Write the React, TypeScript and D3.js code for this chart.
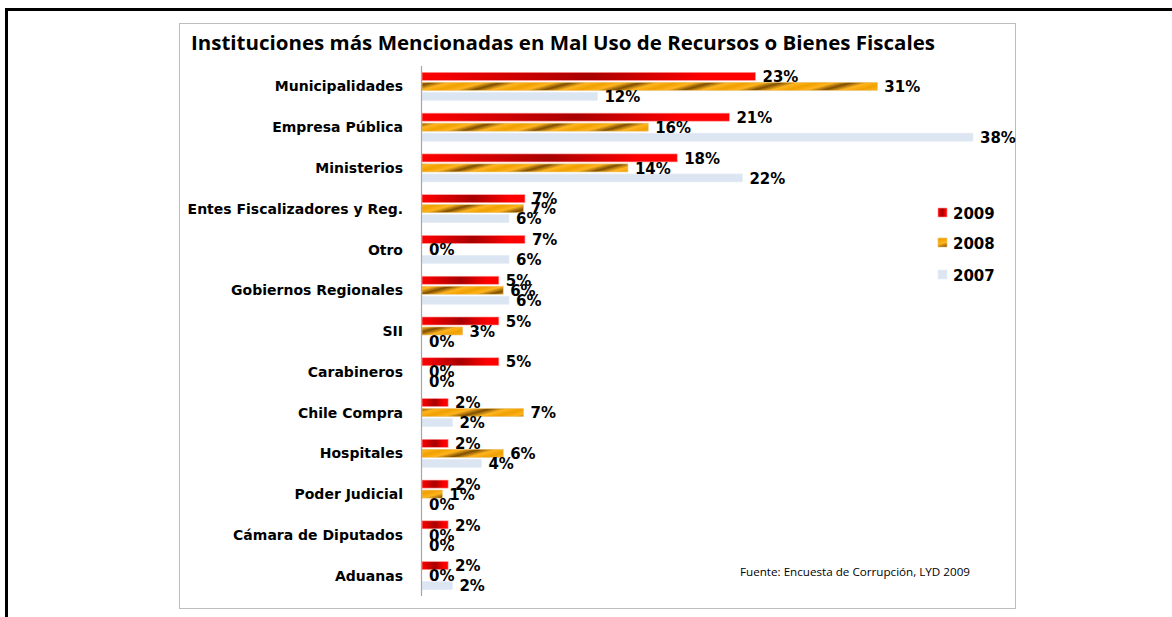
import React from "react";
import * as d3 from "d3";

const categories = [
  "Municipalidades",
  "Empresa Pública",
  "Ministerios",
  "Entes Fiscalizadores y Reg.",
  "Otro",
  "Gobiernos Regionales",
  "SII",
  "Carabineros",
  "Chile Compra",
  "Hospitales",
  "Poder Judicial",
  "Cámara de Diputados",
  "Aduanas",
];
const series = ["2009", "2008", "2007"];
const values2009 = [23.0, 21.2, 17.6, 7.1, 7.1, 5.3, 5.3, 5.3, 1.8, 1.8, 1.8, 1.8, 1.8];
const values2008 = [31.4, 15.6, 14.2, 7.0, 0, 5.6, 2.8, 0, 7.0, 5.6, 1.4, 0, 0];
const values2007 = [12.1, 38.0, 22.1, 6.0, 6.0, 6.0, 0, 0, 2.1, 4.1, 0, 0, 2.1];
const title = "Instituciones más Mencionadas en Mal Uso de Recursos o Bienes Fiscales";
const source = "Fuente: Encuesta de Corrupción, LYD 2009";

const W = 1172;
const H = 617;

export default function App() {
  const x = d3.scaleLinear().domain([0, 38]).range([422, 973]);
  const y = d3.scaleBand<string>().domain(categories).range([66, 596]);
  const inner = d3.scaleBand<string>().domain(series).range([-15, 15]).paddingInner(0.2).paddingOuter(0.1);
  const data = [values2009, values2008, values2007];
  const fills = ["url(#g2009)", "url(#g2008)", "#DCE6F2"];
  const strokes = ["#FF9A9A", "#E8C070", "#E4ECF6"];
  const labelFont = "'DejaVu Sans', Verdana, sans-serif";

  return (
    <svg width={W} height={H} style={{ position: "absolute", left: 0, top: 0 }}>
      <defs>
        <linearGradient id="g2009" x1="0" y1="0" x2="1" y2="0">
          <stop offset="0" stopColor="#FF0000" />
          <stop offset="0.5" stopColor="#A80000" />
          <stop offset="0.85" stopColor="#FF0000" />
          <stop offset="1" stopColor="#FF0000" />
        </linearGradient>
        <linearGradient
          id="g2008"
          gradientUnits="userSpaceOnUse"
          x1="0"
          y1="0"
          x2="4.8"
          y2="17.7"
          spreadMethod="repeat"
        >
          <stop offset="0" stopColor="#F0A000" />
          <stop offset="0.25" stopColor="#FFB41E" />
          <stop offset="0.5" stopColor="#7E4E00" />
          <stop offset="0.75" stopColor="#FFB41E" />
          <stop offset="1" stopColor="#F0A000" />
        </linearGradient>
      </defs>
      <rect x={0} y={0} width={W} height={H} fill="#fff" />
      {/* outer black frame */}
      <rect x={5} y={8} width={W} height={3} fill="#000" />
      <rect x={5} y={8} width={3} height={H} fill="#000" />
      {/* chart frame */}
      <rect x={179.5} y={23.5} width={836} height={585} fill="#fff" stroke="#BDBDBD" strokeWidth={1} />
      <text
        x={191}
        y={50}
        fontFamily="'Open Sans', sans-serif"
        fontWeight="bold"
        fontSize={20}
        textLength={744}
        lengthAdjust="spacingAndGlyphs"
        fill="#000"
      >
        {title}
      </text>
      {/* category labels */}
      {categories.map((c) => (
        <text
          key={c}
          x={403}
          y={(y(c) ?? 0) + y.bandwidth() / 2}
          dy="0.36em"
          textAnchor="end"
          fontFamily={labelFont}
          fontWeight="bold"
          fontSize={14}
          fill="#000"
        >
          {c}
        </text>
      ))}
      {/* bars */}
      {series.map((s, si) =>
        categories.map((c, ci) => {
          const v = data[si][ci];
          const cy = (y(c) ?? 0) + y.bandwidth() / 2;
          const by = cy + (inner(s) ?? 0);
          const bw = x(v) - x(0);
          return (
            <g key={s + c}>
              {v > 0 && (
                <rect
                  x={x(0)}
                  y={by}
                  width={bw}
                  height={inner.bandwidth()}
                  fill={fills[si]}
                  stroke={strokes[si]}
                  strokeWidth={0.6}
                />
              )}
            </g>
          );
        })
      )}
      {/* axis line */}
      <line x1={421.5} x2={421.5} y1={66} y2={596} stroke="#A6A6A6" strokeWidth={1.2} />
      {/* value labels */}
      {series.map((s, si) =>
        categories.map((c, ci) => {
          const v = data[si][ci];
          const cy = (y(c) ?? 0) + y.bandwidth() / 2;
          const by = cy + (inner(s) ?? 0) + inner.bandwidth() / 2;
          return (
            <text
              key={"l" + s + c}
              x={x(v) + 7}
              y={by}
              dy="0.38em"
              fontFamily={labelFont}
              fontWeight="bold"
              fontSize={15}
              fill="#000"
            >
              {d3.format(".0f")(v) + "%"}
            </text>
          );
        })
      )}
      {/* legend */}
      {series.map((s, si) => {
        const ly = [213, 243, 275][si];
        return (
          <g key={"lg" + s}>
            <rect x={938} y={ly - 5} width={9} height={9} fill={fills[si]} stroke={strokes[si]} strokeWidth={0.6} />
            <text
              x={953}
              y={ly}
              dy="0.38em"
              fontFamily={labelFont}
              fontWeight="bold"
              fontSize={15}
              fill="#000"
            >
              {s}
            </text>
          </g>
        );
      })}
      <text
        x={740}
        y={576}
        fontFamily="'Open Sans', sans-serif"
        fontSize={11}
        textLength={230}
        lengthAdjust="spacingAndGlyphs"
        fill="#000"
      >
        {source}
      </text>
    </svg>
  );
}
